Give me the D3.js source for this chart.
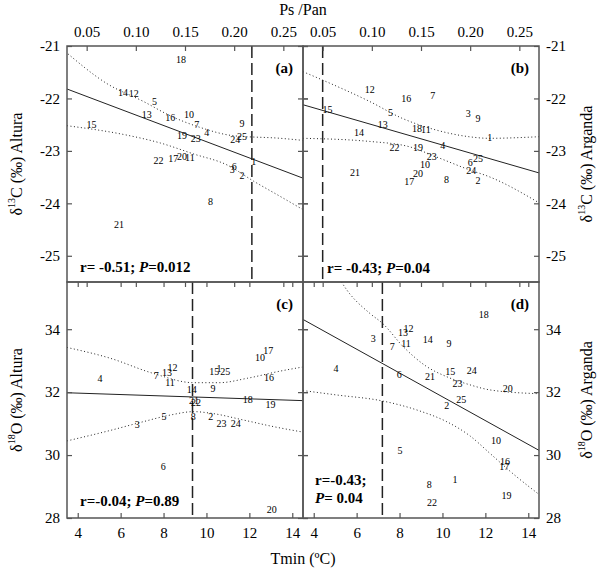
<!DOCTYPE html>
<html>
<head>
<meta charset="utf-8">
<script src="https://cdn.jsdelivr.net/npm/d3@7"></script>
<style>
  body { margin: 0; background: #fff; }
  svg text { font-family: "Liberation Serif", "Times New Roman", Times, serif; fill: #000; }
</style>
</head>
<body>
<div id="chart"></div>
<script>
// sample ids (one per year), shared by all four panels
const ids = [1, 2, 3, 4, 5, 6, 7, 8, 9, 10, 11, 12, 13, 14, 15, 16, 17, 18, 19, 20, 21, 22, 23, 24, 25];

// x values
const psPan = [0.220, 0.208, 0.198, 0.172, 0.119, 0.200, 0.162, 0.176, 0.208, 0.154, 0.155, 0.098, 0.111,
               0.087, 0.055, 0.135, 0.138, 0.146, 0.147, 0.147, 0.083, 0.123, 0.161, 0.201, 0.208];
const tmin = [10.59, 10.20, 6.77, 5.04, 8.02, 7.99, 7.66, 9.39, 10.30, 12.50, 8.30, 8.42, 8.16,
              9.31, 10.36, 12.92, 12.88, 11.93, 12.99, 13.04, 9.42, 9.51, 10.70, 11.37, 10.88];

// y values
const d13cAltura = [-23.20, -23.47, -23.35, -22.64, -22.05, -23.30, -22.50, -23.97, -22.47, -22.30, -23.13, -21.90, -22.31,
                    -21.88, -22.49, -22.37, -23.14, -21.25, -22.71, -23.11, -24.41, -23.19, -22.77, -22.79, -22.73];
const d13cArganda = [-22.75, -23.57, -22.28, -22.89, -22.27, -23.23, -21.95, -23.55, -22.38, -23.25, -22.60, -21.82, -22.50,
                     -22.64, -22.21, -22.00, -23.58, -22.57, -22.93, -23.44, -23.41, -22.93, -23.10, -23.38, -23.14];
const d18oAltura = [32.76, 31.22, 30.96, 32.44, 31.22, 29.65, 32.54, 31.24, 32.12, 33.09, 32.30, 32.79, 32.63,
                    32.07, 32.65, 32.46, 33.31, 31.77, 31.61, 28.28, 31.72, 31.66, 31.01, 30.99, 32.67];
const d18oArganda = [29.21, 31.59, 33.71, 32.76, 30.14, 32.55, 33.44, 29.08, 33.53, 30.45, 33.53, 34.03, 33.89,
                     33.68, 32.65, 29.80, 29.65, 34.48, 28.70, 32.10, 32.49, 28.49, 32.28, 32.68, 31.77];

// tick labels
const psPanTicks = [0.05, 0.10, 0.15, 0.20, 0.25];
const tminTicks = [4, 6, 8, 10, 12, 14];
const d13cTicks = [-21, -22, -23, -24, -25];
const d18oTicks = [28, 30, 32, 34];

// regression lines and 95% bands as drawn in the figure
const fitA = [[0.03, -21.82], [0.27, -23.52]];
const upperA = [[0.031, -21.15], [0.070, -21.71], [0.108, -22.06], [0.135, -22.33], [0.165, -22.55], [0.199, -22.71], [0.247, -22.76], [0.27, -22.80]];
const lowerA = [[0.03, -22.52], [0.091, -22.70], [0.125, -22.85], [0.159, -23.06], [0.193, -23.27], [0.22, -23.58], [0.247, -23.87], [0.27, -24.12]];

const fitB = [[0.03, -22.12], [0.27, -23.42]];
const upperB = [[0.03, -21.49], [0.05, -21.65], [0.098, -22.06], [0.131, -22.38], [0.165, -22.60], [0.199, -22.73], [0.219, -22.76], [0.27, -22.73]];
const lowerB = [[0.03, -22.76], [0.098, -22.82], [0.138, -22.92], [0.165, -23.11], [0.199, -23.36], [0.219, -23.49], [0.27, -23.99]];

const fitC = [[3.5, 31.98], [14.5, 31.73]];
const upperC = [[3.5, 33.42], [5.5, 33.08], [7.5, 32.60], [9.4, 32.30], [10.6, 32.30], [11.9, 32.44], [13.45, 32.67], [14.5, 32.80]];
const lowerC = [[3.5, 30.45], [5.5, 30.78], [7.05, 31.06], [8.3, 31.27], [9.4, 31.38], [10.2, 31.33], [11.75, 31.11], [13.15, 30.90], [14.5, 30.73]];

const fitD = [[3.5, 34.31], [14.5, 30.15]];
const upperD = [[5.2, 35.6], [5.54, 35.25], [6.62, 34.5], [7.2, 34.19], [8.18, 33.44], [9.27, 32.81], [10.2, 32.49], [11.29, 32.23], [12.22, 32.07], [14.5, 31.95]];
const lowerD = [[3.5, 32.05], [5.07, 31.91], [7.2, 31.72], [8.95, 31.40], [10.2, 31.06], [11.3, 30.60], [12.22, 30.05], [13.3, 29.40], [14.5, 28.75]];

// dashed thresholds
const dashA = 0.218, dashB = 0.05, dashC = 9.35, dashD = 7.2;

const statsA = ['r= -0.51; ', 'P', '=0.012'];
const statsB = ['r= -0.43; ', 'P', '=0.04'];
const statsC = ['r=-0.04; ', 'P', '=0.89'];
const statsD = ['r=-0.43;', 'P', '= 0.04'];

const size = 236;
const marginLeft = 67, marginTop = 46;
const frameColor = '#555';
const serif = '"Liberation Serif", "Times New Roman", Times, serif';

const svg = d3.select('#chart').append('svg')
  .attr('width', 600)
  .attr('height', 570)
  .attr('font-family', serif);

const xPs = d3.scaleLinear().domain([0.03, 0.27]).range([0, size]);
const xT = d3.scaleLinear().domain([3.5, 14.5]).range([0, size]);
const yC = d3.scaleLinear().domain([-25.5, -21]).range([size, 0]);
const yO = d3.scaleLinear().domain([28, 35.5]).range([size, 0]);

const panels = [
  { key: 'a', ox: marginLeft, oy: marginTop, x: xPs, y: yC, xs: psPan, ys: d13cAltura, fit: fitA, up: upperA, lo: lowerA, dash: dashA, stats: statsA, sx: 13, sy: 226 },
  { key: 'b', ox: marginLeft + size, oy: marginTop, x: xPs, y: yC, xs: psPan, ys: d13cArganda, fit: fitB, up: upperB, lo: lowerB, dash: dashB, stats: statsB, sx: 24, sy: 227 },
  { key: 'c', ox: marginLeft, oy: marginTop + size, x: xT, y: yO, xs: tmin, ys: d18oAltura, fit: fitC, up: upperC, lo: lowerC, dash: dashC, stats: statsC, sx: 13, sy: 224 },
  { key: 'd', ox: marginLeft + size, oy: marginTop + size, x: xT, y: yO, xs: tmin, ys: d18oArganda, fit: fitD, up: upperD, lo: lowerD, dash: dashD, stats: statsD, sx: 12, sy: 203, twoLines: true }
];

function styleAxis(g) {
  g.attr('font-family', serif);
  g.select('.domain').remove();
  g.selectAll('line').attr('stroke', frameColor).attr('stroke-width', 1.2);
  g.selectAll('text').attr('font-size', 15).attr('font-family', serif);
}

panels.forEach(p => {
  const g = svg.append('g').attr('transform', `translate(${p.ox},${p.oy})`);

  g.append('clipPath').attr('id', 'clip-' + p.key)
    .append('rect').attr('width', size).attr('height', size);

  const plot = g.append('g').attr('clip-path', `url(#clip-${p.key})`);
  const line = d3.line().x(d => p.x(d[0])).y(d => p.y(d[1]));
  const band = d3.line().x(d => p.x(d[0])).y(d => p.y(d[1])).curve(d3.curveMonotoneX);

  [p.up, p.lo].forEach(b => {
    plot.append('path')
      .attr('d', band(b))
      .attr('fill', 'none')
      .attr('stroke', '#222')
      .attr('stroke-width', 1)
      .attr('stroke-dasharray', '1,2.5');
  });

  plot.append('path')
    .attr('d', line(p.fit))
    .attr('fill', 'none')
    .attr('stroke', '#222')
    .attr('stroke-width', 1);

  plot.append('line')
    .attr('x1', p.x(p.dash)).attr('x2', p.x(p.dash))
    .attr('y1', 0).attr('y2', size)
    .attr('stroke', '#222')
    .attr('stroke-width', 1.5)
    .attr('stroke-dasharray', '12,5');

  plot.selectAll('.pt')
    .data(ids)
    .enter().append('text')
    .attr('class', 'pt')
    .attr('x', (d, i) => p.x(p.xs[i]))
    .attr('y', (d, i) => p.y(p.ys[i]))
    .attr('dy', '0.35em')
    .attr('text-anchor', 'middle')
    .attr('font-size', 10)
    .text(d => d);

  // r and P
  const st = g.append('text')
    .attr('x', p.sx)
    .attr('y', p.sy)
    .attr('font-size', 15)
    .attr('font-weight', 'bold');
  if (p.twoLines) {
    st.append('tspan').text(p.stats[0]);
    st.append('tspan').attr('x', p.sx).attr('dy', 18).attr('font-style', 'italic').text(p.stats[1]);
    st.append('tspan').text(p.stats[2]);
  } else {
    st.append('tspan').text(p.stats[0]);
    st.append('tspan').attr('font-style', 'italic').text(p.stats[1]);
    st.append('tspan').text(p.stats[2]);
  }

  g.append('text')
    .attr('x', size - 10)
    .attr('y', 27)
    .attr('text-anchor', 'end')
    .attr('font-size', 15)
    .attr('font-weight', 'bold')
    .text(`(${p.key})`);

  // inward ticks on all four sides
  const isTop = p.oy === marginTop;
  const isLeft = p.ox === marginLeft;
  const xt = isTop ? psPanTicks : tminTicks;
  const yt = isTop ? d13cTicks : d18oTicks;

  g.append('g').call(d3.axisBottom(p.x).tickValues(xt).tickSize(5).tickFormat('')).call(styleAxis);
  if (isTop) {
    // ticks hanging below the middle boundary
    g.append('g').attr('transform', `translate(0,${size})`)
      .call(d3.axisBottom(p.x).tickValues(psPanTicks).tickSize(5).tickFormat('')).call(styleAxis);
  } else {
    g.append('g').attr('transform', `translate(0,${size})`)
      .call(d3.axisTop(p.x).tickValues(xt).tickSize(5).tickFormat('')).call(styleAxis);
  }
  g.append('g').call(d3.axisRight(p.y).tickValues(yt).tickSize(5).tickFormat('')).call(styleAxis);
  g.append('g').attr('transform', `translate(${size},0)`)
    .call(d3.axisLeft(p.y).tickValues(yt).tickSize(5).tickFormat('')).call(styleAxis);
  if (isLeft) {
    g.append('g').attr('transform', `translate(${size},0)`)
      .call(d3.axisRight(p.y).tickValues(yt).tickSize(5).tickFormat('')).call(styleAxis);
  }

  // tick labels on outer edges
  if (isTop) {
    g.append('g').call(d3.axisTop(p.x).tickValues(psPanTicks).tickSize(0).tickPadding(9).tickFormat(d3.format('.2f'))).call(styleAxis);
  } else {
    g.append('g').attr('transform', `translate(0,${size})`)
      .call(d3.axisBottom(p.x).tickValues(tminTicks).tickSize(0).tickPadding(9).tickFormat(d3.format('d'))).call(styleAxis);
  }
  if (isLeft) {
    g.append('g').call(d3.axisLeft(p.y).tickValues(yt).tickSize(0).tickPadding(7).tickFormat(d => String(d))).call(styleAxis);
  } else {
    g.append('g').attr('transform', `translate(${size},0)`)
      .call(d3.axisRight(p.y).tickValues(yt).tickSize(0).tickPadding(7).tickFormat(d => String(d))).call(styleAxis);
  }

  g.append('rect')
    .attr('width', size).attr('height', size)
    .attr('fill', 'none')
    .attr('stroke', frameColor)
    .attr('stroke-width', 1.5);
});

// axis titles
svg.append('text')
  .attr('x', marginLeft + size).attr('y', 15)
  .attr('text-anchor', 'middle').attr('font-size', 16)
  .text('Ps /Pan');

svg.append('text')
  .attr('x', marginLeft + size).attr('y', 564)
  .attr('text-anchor', 'middle').attr('font-size', 16)
  .text('Tmin (ºC)');

function yTitle(cx, cy, iso, site) {
  const t = svg.append('text')
    .attr('transform', `translate(${cx},${cy}) rotate(-90)`)
    .attr('text-anchor', 'middle')
    .attr('font-size', 16);
  t.append('tspan').text('δ');
  t.append('tspan').attr('font-size', 10).attr('dy', -7).text(iso[0]);
  t.append('tspan').attr('dy', 7).text(iso[1] + ' (‰) ' + site);
}
yTitle(22, marginTop + size / 2, ['13', 'C'], 'Altura');
yTitle(22, marginTop + size * 1.5, ['18', 'O'], 'Altura');
yTitle(592, marginTop + size / 2, ['13', 'C'], 'Arganda');
yTitle(592, marginTop + size * 1.5, ['18', 'O'], 'Arganda');
</script>
</body>
</html>
